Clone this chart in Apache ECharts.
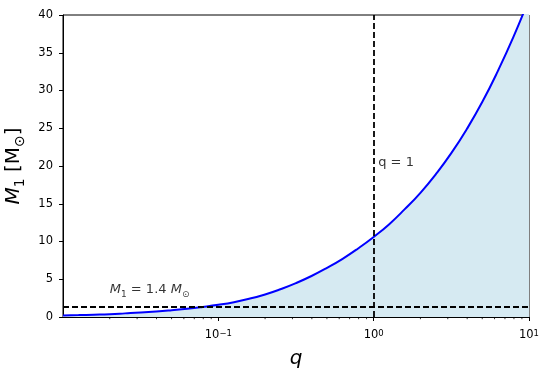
<!DOCTYPE html>
<html><head><meta charset="utf-8">
<script src="https://cdn.jsdelivr.net/npm/echarts@6/dist/echarts.min.js"></script>
<style>html,body{margin:0;padding:0;background:#fff}#c{width:552px;height:377px}</style>
</head><body><div id="c"></div>
<script>
// ---- data ----
const qValues  = [0.01, 0.0126, 0.0158, 0.02, 0.0251, 0.0316, 0.0398, 0.0501, 0.0631, 0.0794,
                  0.1, 0.126, 0.158, 0.2, 0.251, 0.316, 0.398, 0.501, 0.631, 0.794,
                  1, 1.26, 1.58, 2, 2.51, 3.16, 3.98, 5.01, 6.31, 7.94, 10];
const m1Values = [0.20, 0.25, 0.31, 0.38, 0.48, 0.59, 0.73, 0.90, 1.09, 1.33,
                  1.61, 1.96, 2.41, 2.99, 3.68, 4.49, 5.43, 6.51, 7.71, 9.08,
                  10.6, 12.3, 14.25, 16.45, 18.9, 21.7, 24.9, 28.5, 32.6, 37.1, 42.1];
const xMajorTicks = [0.1, 1, 10];
const xMajorLabels = ['10{s|\u22121}', '10{s|0}', '10{s|1}'];
const xMinorTicks = [0.02,0.03,0.04,0.05,0.06,0.07,0.08,0.09,0.2,0.3,0.4,0.5,0.6,0.7,0.8,0.9,2,3,4,5,6,7,8,9];
const m1Limit = 1.4;
const qEqualOne = 1;
const annotations = [
  {pos: [0.02, 2.7], text: '{i|M}{sub|1}{n| = 1.4 }{i|M}{sub|\u2299}'},
  {pos: [1.07, 19.6], text: '{n|q = 1}'}
];

const FONT = 'DejaVu Sans';
const chart = echarts.init(document.getElementById('c'), null, {renderer: 'canvas'});
const curve = qValues.map((q, i) => [q, m1Values[i]]);

chart.setOption({
  animation: false,
  backgroundColor: '#fff',
  grid: {left: 63, right: 23, top: 15, bottom: 60, containLabel: false, outerBoundsMode: 'none',
         show: true, borderColor: '#000', borderWidth: 1, backgroundColor: 'transparent'},
  xAxis: {
    type: 'log', logBase: 10, min: 0.01, max: 10,
    name: 'q', nameLocation: 'middle', nameGap: 25,
    nameTextStyle: {fontFamily: FONT, fontSize: 20, fontStyle: 'italic', color: '#000'},
    axisLine: {show: true, lineStyle: {color: '#000', width: 1}},
    axisTick: {show: true, length: 4, lineStyle: {color: '#000'}, customValues: xMajorTicks},
    axisLabel: {
      fontFamily: FONT, fontSize: 11.5, color: '#000', margin: 12,
      customValues: xMajorTicks,
      formatter: v => { const k = xMajorTicks.findIndex(t => Math.abs(t - v) / t < 1e-6); return k >= 0 ? xMajorLabels[k] : ''; },
      rich: {s: {fontFamily: FONT, fontSize: 8.5, color: '#000', verticalAlign: 'top', lineHeight: 8, padding: [0, 0, 6, 0]}}
    },
    splitLine: {show: false}, minorTick: {show: false}
  },
  yAxis: {
    type: 'value', min: 0, max: 40, interval: 5,
    name: '{i|M}{sub|1}{n| [M}{sub|\u2299}{n|]}', nameLocation: 'middle', nameGap: 28,
    nameTextStyle: {
      fontFamily: FONT, fontSize: 20, color: '#000',
      rich: {
        i: {fontFamily: FONT, fontSize: 20, fontStyle: 'italic', color: '#000', lineHeight: 24, verticalAlign: 'bottom'},
        n: {fontFamily: FONT, fontSize: 20, color: '#000', lineHeight: 24, verticalAlign: 'bottom'},
        sub: {fontFamily: FONT, fontSize: 14, color: '#000', lineHeight: 14, verticalAlign: 'bottom', padding: [0, 0, -4, 0]}
      }
    },
    axisLine: {show: true, lineStyle: {color: '#000', width: 1}},
    axisTick: {show: true, length: 4, lineStyle: {color: '#000'}},
    axisLabel: {fontFamily: FONT, fontSize: 11.5, color: '#000', margin: 10},
    splitLine: {show: false}
  },
  series: [
    {
      type: 'line', data: curve, smooth: 0.5, showSymbol: false, clip: true,
      lineStyle: {color: '#0000ff', width: 2},
      areaStyle: {color: '#d6eaf2', opacity: 1, origin: 'start'},
      z: 2,
      markLine: {
        silent: true, symbol: 'none', animation: false,
        lineStyle: {color: '#000', type: [6, 3], width: 1.8},
        label: {show: false},
        data: [{yAxis: m1Limit}, {xAxis: qEqualOne}]
      }
    },
    {
      type: 'custom', coordinateSystem: 'cartesian2d', clip: false, silent: true,
      data: xMinorTicks.map(q => [q, 0]),
      renderItem: (params, api) => {
        const p = api.coord([api.value(0), 0]);
        return {type: 'line', shape: {x1: p[0], y1: p[1], x2: p[0], y2: p[1] + 2.2}, style: {stroke: '#000', lineWidth: 0.8}};
      }
    },
    {
      type: 'scatter', symbolSize: 0, silent: true, z: 5,
      data: annotations.map(a => ({value: a.pos, label: {formatter: a.text}})),
      label: {
        show: true, position: 'right', distance: 0, align: 'left', verticalAlign: 'bottom',
        color: '#000',
        rich: {
          i: {fontFamily: FONT, fontSize: 13, fontStyle: 'italic', color: '#000', lineHeight: 15, verticalAlign: 'bottom'},
          n: {fontFamily: FONT, fontSize: 13, color: '#000', lineHeight: 15, verticalAlign: 'bottom'},
          sub: {fontFamily: FONT, fontSize: 9, color: '#000', lineHeight: 8, verticalAlign: 'bottom', padding: [0, 0, -3, 0]}
        }
      }
    }
  ]
});
</script></body></html>
